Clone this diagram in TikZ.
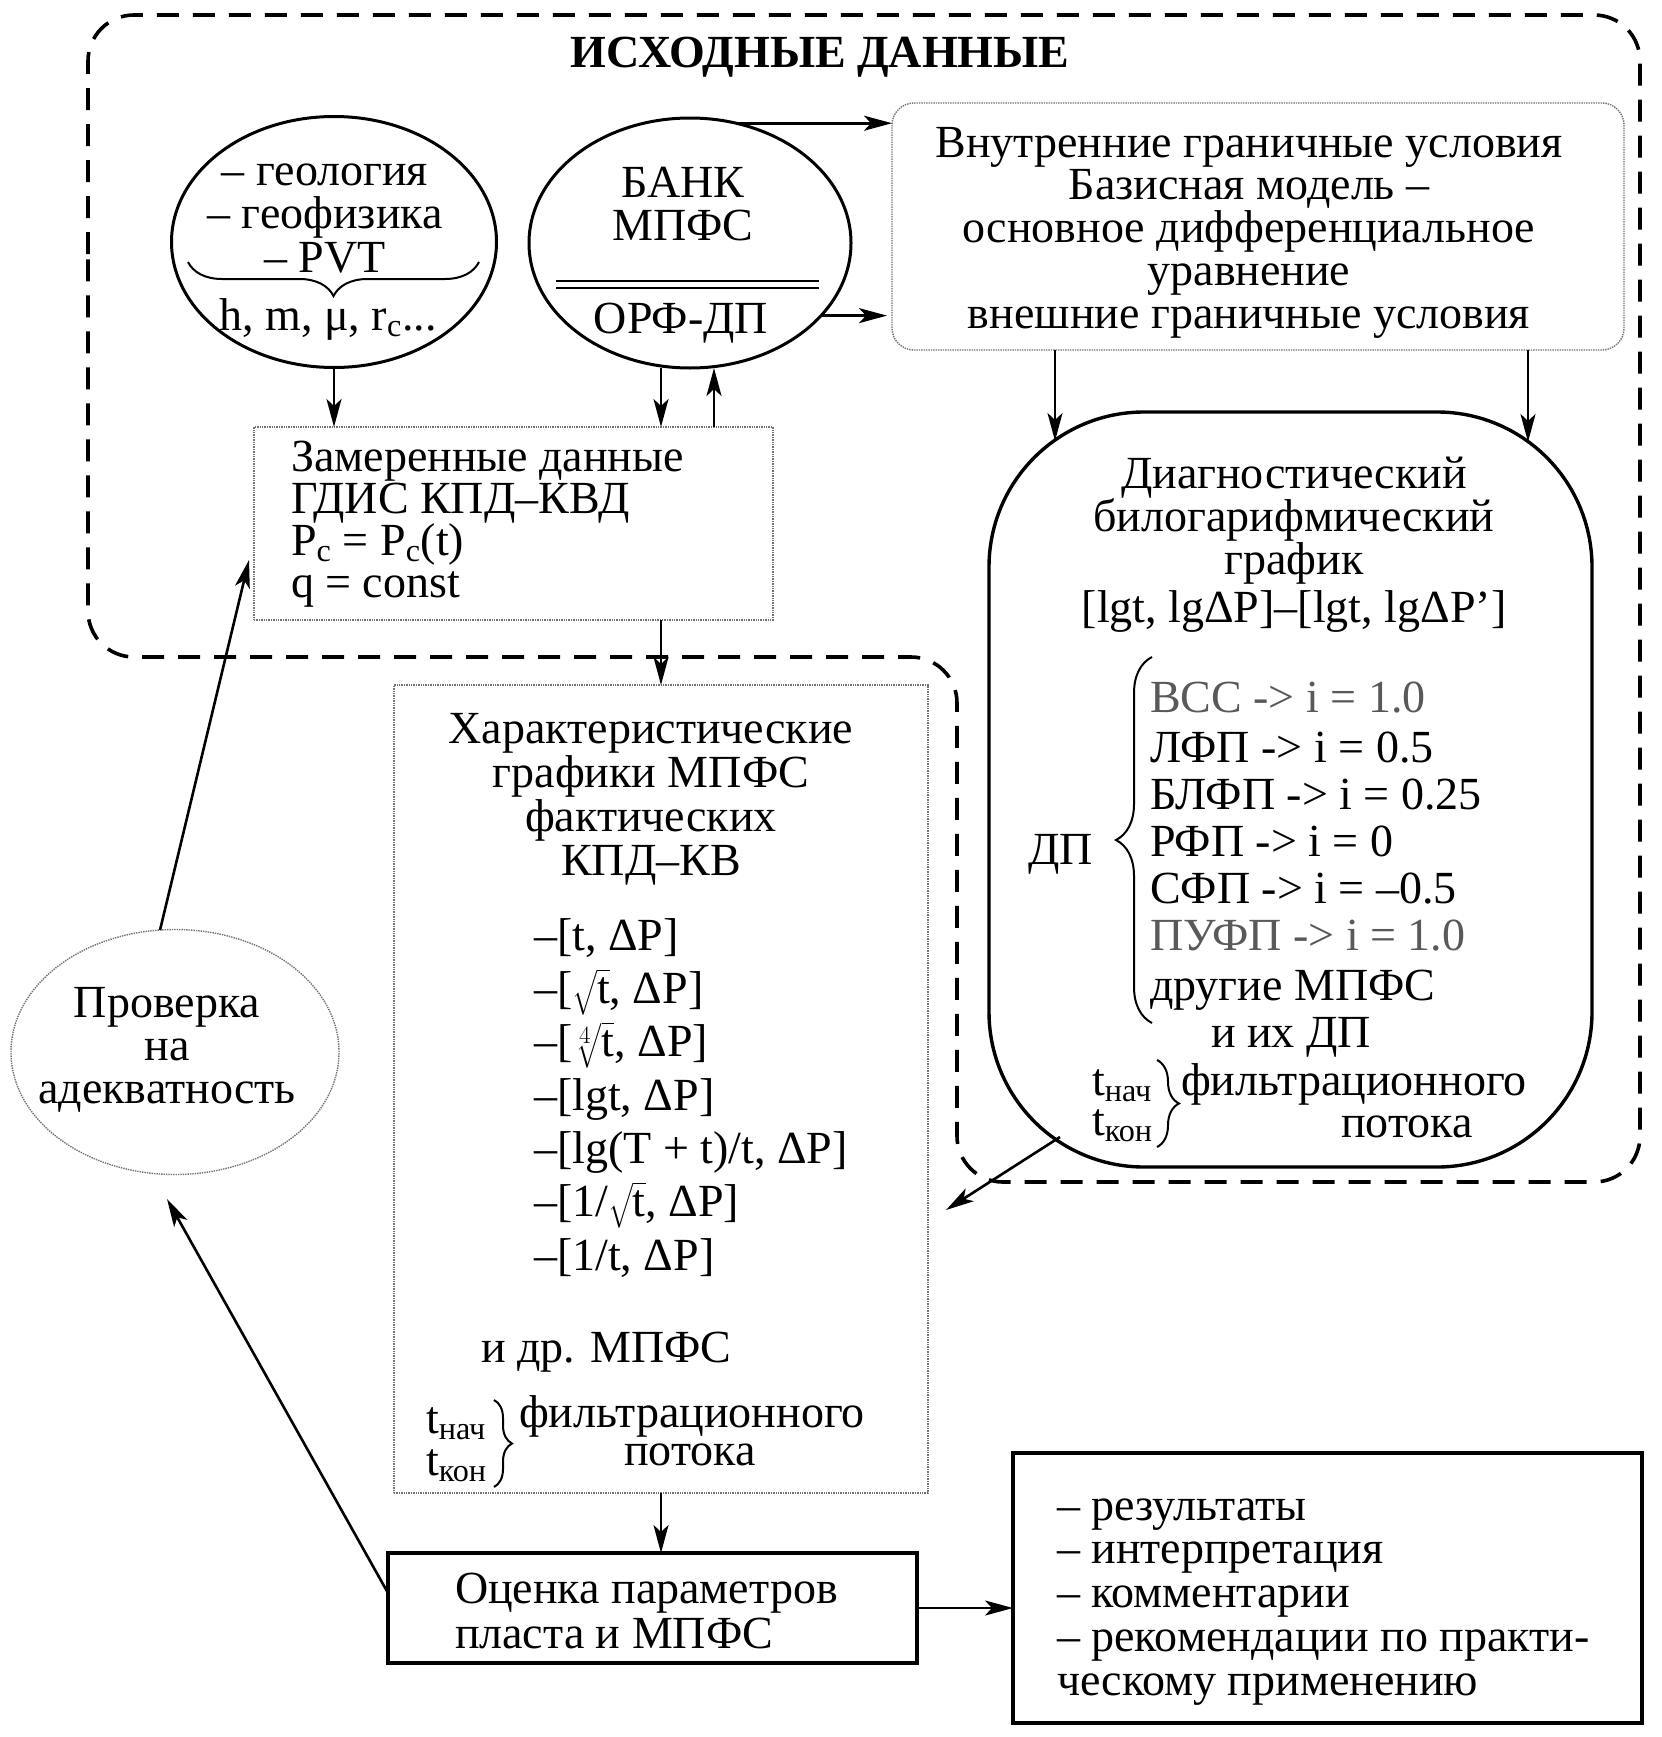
\documentclass[tikz,border=0pt]{standalone}
\usepackage{fontspec}
\setmainfont{Liberation Serif}
\usepackage{exscale}
\usetikzlibrary{arrows.meta,shapes.geometric,decorations.pathreplacing}
\newcommand\fsb[1]{\fontsize{46}{#1}\selectfont\lineskiplimit=-100pt\lineskip=0pt\relax}
\newcommand\rt[1]{$\sqrt{\mathstrut\mathrm{#1}}$}
% multi-line nodes: anchor=base lies on the LAST line's baseline
\tikzset{
 every node/.style={inner sep=0pt, outer sep=0pt},
 txt/.style={font=\fsb{#1}, anchor=base, align=center},
 txt/.default=43,
 txtl/.style={font=\fsb{#1}, anchor=base west, align=left},
 txtl/.default=43,
 arr/.style={line width=2.6pt, -{Stealth[length=28pt,width=15pt,inset=7pt]}},
 dotbox/.style={draw=black!55, densely dotted, line width=1.4pt},
 solidbox/.style={draw, line width=3.4pt},
 outer/.style={draw, line width=3.6pt, dash pattern=on 22pt off 14pt, rounded corners=46pt},
 brc/.style={decorate, decoration={brace, amplitude=#1}, line width=2pt},
 brcm/.style={decorate, decoration={brace, mirror, amplitude=#1}, line width=2pt},
}
\begin{document}
\begin{tikzpicture}[x=1pt,y=-1pt]
\fill[white] (0,0) rectangle (1662,1737);
\useasboundingbox (0,0) rectangle (1662,1737);

% outer dashed region
\draw[outer] (88,300) -- (88,15) -- (1640,15) -- (1640,1182) -- (957,1182) -- (957,657) -- (88,657) -- cycle;
\node[font=\fsb{43}\bfseries, anchor=base] (title) at (820,67) {ИСХОДНЫЕ ДАННЫЕ};

% geology ellipse
\node[draw, ellipse, line width=3pt, minimum width=325pt, minimum height=251pt] (geo) at (334,242) {};
\node[txt=43.5] (gtxt) at (325,272) {– геология\\– геофизика\\– PVT};
\draw[brcm=34pt] (188,262) -- (479,262);
\node[txt] (gpar) at (328,330) {h, m, μ, r\textsubscript{c}...};

% bank
\node[draw, ellipse, line width=3pt, minimum width=322pt, minimum height=250pt] (bank) at (690,243) {};
\node[txt] (btxt) at (683,240) {БАНК\\МПФС};
\draw[line width=2.5pt] (556,281) -- (819,281) (556,288) -- (819,288);
\node[txt] (borf) at (681,333) {ОРФ-ДП};

% internal boundary conditions box
\node[dotbox, rounded corners=22pt, minimum width=732pt, minimum height=247pt] (vn) at (1258,226.5) {};
\node[txt=42.75] (vtxt) at (1249,328) {Внутренние граничные условия\\Базисная модель –\\основное дифференциальное\\уравнение\\внешние граничные условия};

% measured data
\node[dotbox, minimum width=519pt, minimum height=193pt] (zam) at (513.5,523.5) {};
\node[txtl=41.7] (ztxt) at (291,597) {Замеренные данные\\ГДИС КПД–КВД\\P\textsubscript{c} = P\textsubscript{c}(t)\\q = const};

% characteristic plots
\node[dotbox, minimum width=534pt, minimum height=808pt] (chr) at (661,1089) {};
\node[txt=44] (ctxt) at (651,875) {Характеристические\\графики МПФС\\фактических\\КПД–КВ};
\node[txtl=53.3] (clist) at (534,1270) {–[t, ΔP]\\–[\rt{t}, ΔP]\\–[$\sqrt[4]{\mathstrut\mathrm{t}}$, ΔP]\\–[lgt, ΔP]\\–[lg(T + t)/t, ΔP]\\–[1/\rt{t}, ΔP]\\–[1/t, ΔP]};
\node[txtl] (cdr) at (481,1362) {и др. МПФС};
\node[txtl=42] (ct) at (426,1475) {t\textsubscript{нач}\\t\textsubscript{кон}};
\draw[brc=18pt] (494,1400) -- (494,1487);
\node[txtl] (cf) at (519,1427) {фильтрационного};
\node[txtl] (cp) at (624,1465) {потока};

% diagnostic plot
\node[draw, line width=3.4pt, rounded corners=155pt, minimum width=603pt, minimum height=755pt] (diag) at (1290.5,789.5) {};
\node[txt] (dtxt) at (1294,622) {Диагностический\\билогарифмический\\график\\[5pt][lgt, lgΔP]–[lgt, lgΔP']};
\node[txtl] (dp) at (1028,864) {ДП};
\draw[brc=36pt] (1152,1023) -- (1152,657);
\node[txtl, text=black!65] (plist1) at (1150,712) {ВСС -> i = 1.0};
\node[txtl=47] (plist2) at (1150,903) {ЛФП -> i = 0.5\\БЛФП -> i = 0.25\\РФП -> i = 0\\СФП -> i = –0.5};
\node[txtl, text=black!65] (plist3) at (1150,950) {ПУФП -> i = 1.0};
\node[txtl] (plist4) at (1150,1000) {другие МПФС};
\node[txtl] (p8) at (1211,1047) {и их ДП};
\node[txtl=40] (pt) at (1092,1135) {t\textsubscript{нач}\\t\textsubscript{кон}};
\draw[brc=22pt] (1157,1060) -- (1157,1147);
\node[txtl] (pf) at (1181,1095) {фильтрационного};
\node[txtl] (pp) at (1341,1137) {потока};

% adequacy check
\node[dotbox, ellipse, minimum width=328pt, minimum height=245pt] (prov) at (175,1052) {};
\node[txt] (rtxt) at (167,1103) {Проверка\\на\\адекватность};

% estimation
\node[solidbox, minimum width=529pt, minimum height=110pt] (oc) at (652.5,1608) {};
\node[txtl=45] (otxt) at (455,1648) {Оценка параметров\\пласта и МПФС};

% results
\node[solidbox, minimum width=629pt, minimum height=270pt] (res) at (1327.5,1588) {};
\node[txtl=43.75] (stxt) at (1057,1695) {– результаты\\– интерпретация\\– комментарии\\– рекомендации по практи-\\ческому применению};

% connector helper coordinates
\coordinate (xa) at (661,0);
\coordinate (xb) at (714,0);
\coordinate (xc) at (1055,0);
\coordinate (xd) at (1528,0);
\coordinate (e1) at (1055,441);
\coordinate (e2) at (1528,442);
\coordinate (e3) at (1060,1137);
\coordinate (e4) at (946,1210);
\coordinate (e5) at (249,560);
\coordinate (e6) at (167,1199);

% connectors
\draw[arr] (geo.south) -- (geo.south |- zam.north);
\draw[arr] (bank.south -| xa) -- (zam.north -| xa);
\draw[arr] (zam.north -| xb) -- (bank.south -| xb);
\draw[arr] (bank.69) -- (bank.69 -| vn.west);
\draw[arr, shorten >=5pt] (bank.-29) -- (bank.-29 -| vn.west);
\draw[arr] (vn.south -| xc) -- (e1);
\draw[arr] (vn.south -| xd) -- (e2);
\draw[arr] (zam.south -| xa) -- (chr.north -| xa);
\draw[arr] (e3) -- (e4);
\draw[arr] (prov.97) -- (e5);
\draw[arr] ([yshift=15pt]oc.west) -- (e6);
\draw[arr] (chr.south -| xa) -- (oc.north -| xa);
\draw[arr] (oc.east) -- (res.west |- oc.east);
\end{tikzpicture}
\end{document}
